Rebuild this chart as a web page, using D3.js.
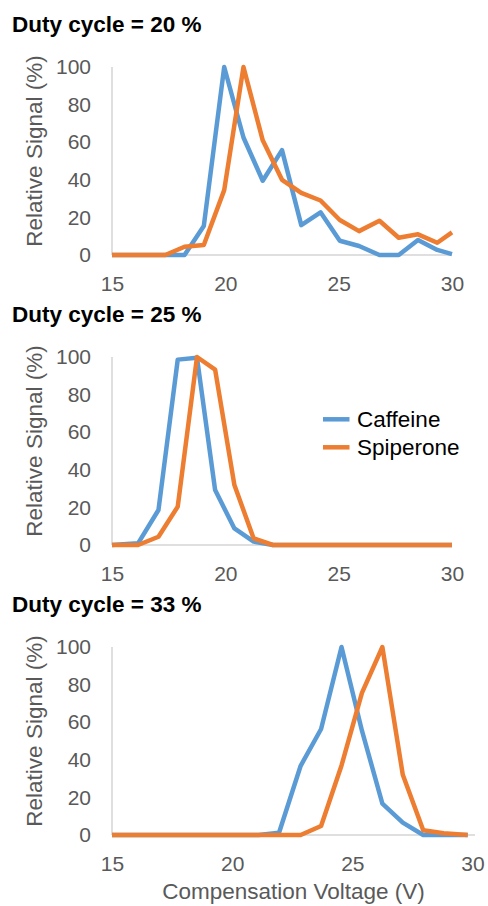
<!DOCTYPE html>
<html>
<head>
<meta charset="utf-8">
<script src="https://cdn.jsdelivr.net/npm/d3@7/dist/d3.min.js"></script>
<style>
  html, body { margin: 0; padding: 0; background: #fff; }
  svg { display: block; font-family: "Liberation Sans", Arial, sans-serif; }
</style>
</head>
<body>
<svg id="chart" width="488" height="906"></svg>
<script>
// ---- Data ----
const seriesNames = ["Caffeine", "Spiperone"];
const seriesColors = ["#5B9BD5", "#ED7D31"];
const xTicks = [15, 20, 25, 30];
const yTicks = [0, 20, 40, 60, 80, 100];
const panelTitles = ["Duty cycle = 20 %", "Duty cycle = 25 %", "Duty cycle = 33 %"];
const yAxisTitle = "Relative Signal (%)";
const xAxisTitle = "Compensation Voltage (V)";

// Duty cycle 20 %
const cv20 = [15, 16.55, 17.35, 18.2, 19.05, 19.95, 20.8, 21.65, 22.5, 23.35, 24.2, 25.05, 25.9, 26.8, 27.65, 28.5, 29.35, 30];
const caffeine20 = [0, 0, 0, 0, 15.4, 100, 62.5, 39.5, 55.8, 15.9, 22.7, 7.6, 4.8, 0, 0, 8, 2.7, 0.5];
const spiperone20 = [0, 0, 0, 4.4, 5.3, 34.5, 100, 61, 40, 33, 29, 18.6, 12.7, 18.2, 9.2, 11, 6.5, 12];

// Duty cycle 25 %
const cv25 = [15, 16.15, 17.05, 17.9, 18.75, 19.55, 20.4, 21.25, 22.1, 30];
const caffeine25 = [0, 0.9, 18.6, 98.6, 99.6, 29.2, 8.8, 1.8, 0, 0];
const spiperone25 = [0, 0, 4.4, 20.4, 100, 93.3, 31.9, 3.5, 0, 0];

// Duty cycle 33 %
const cv33 = [15, 21.1, 21.95, 22.85, 23.7, 24.55, 25.4, 26.25, 27.1, 27.95, 28.8, 29.8];
const caffeine33 = [0, 0, 1.2, 36.8, 56.4, 100, 55.5, 16.7, 6.6, 0, 0, 0];
const spiperone33 = [0, 0, 0, 0, 4.8, 37, 75.6, 100, 32, 2.5, 0.9, 0];

const panels = [
  { title: panelTitles[0], cv: cv20, series: [caffeine20, spiperone20], xRight: 452, axisRight: 452, legend: false, xTitle: false },
  { title: panelTitles[1], cv: cv25, series: [caffeine25, spiperone25], xRight: 452, axisRight: 452, legend: true, xTitle: false },
  { title: panelTitles[2], cv: cv33, series: [caffeine33, spiperone33], xRight: 472.5, axisRight: 475, legend: false, xTitle: true }
];

const svg = d3.select("#chart");
const plotLeft = 112;
const panelStep = 290;

panels.forEach((p, i) => {
  const off = i * panelStep;
  const top = 67 + off, bottom = 255 + off;
  const g = svg.append("g");

  const x = d3.scaleLinear().domain([15, 30]).range([plotLeft, p.xRight]);
  const y = d3.scaleLinear().domain([0, 100]).range([bottom, top]);

  // title
  g.append("text")
    .attr("x", 12).attr("y", 32 + off)
    .attr("font-size", 22.5).attr("font-weight", "bold").attr("fill", "#000")
    .text(p.title);

  // axis lines
  g.append("line").attr("x1", plotLeft).attr("x2", plotLeft)
    .attr("y1", top).attr("y2", bottom)
    .attr("stroke", "#d4d4d4").attr("stroke-width", 1.5);
  g.append("line").attr("x1", plotLeft).attr("x2", p.axisRight)
    .attr("y1", bottom).attr("y2", bottom)
    .attr("stroke", "#d4d4d4").attr("stroke-width", 1.5);

  // y axis
  const ya = g.append("g").attr("transform", `translate(${plotLeft},0)`)
    .call(d3.axisLeft(y).tickValues(yTicks).tickSize(0).tickPadding(21));
  ya.select(".domain").remove();
  ya.selectAll("text").attr("font-size", 21).attr("fill", "#595959")
    .attr("font-family", "Liberation Sans, Arial, sans-serif");

  // x axis
  const xa = g.append("g").attr("transform", `translate(0,${bottom})`)
    .call(d3.axisBottom(x).tickValues(xTicks).tickSize(0).tickPadding(21));
  xa.select(".domain").remove();
  xa.selectAll("text").attr("font-size", 21).attr("fill", "#595959")
    .attr("font-family", "Liberation Sans, Arial, sans-serif");

  // y axis title
  g.append("text")
    .attr("transform", `translate(34,${(top + bottom) / 2 - 10}) rotate(-90)`)
    .attr("text-anchor", "middle").attr("dominant-baseline", "central")
    .attr("font-size", 22.5).attr("fill", "#595959")
    .text(yAxisTitle);

  // lines
  const line = d3.line().x(d => x(d[0])).y(d => y(d[1]));
  p.series.forEach((vals, k) => {
    const pts = p.cv.map((c, j) => [c, vals[j]]);
    g.append("path").datum(pts)
      .attr("d", line)
      .attr("fill", "none")
      .attr("stroke", seriesColors[k])
      .attr("stroke-width", 4.5)
      .attr("stroke-linejoin", "round");
  });

  if (p.legend) {
    const lg = g.append("g");
    seriesNames.forEach((name, k) => {
      const ly = 419.3 + k * 28;
      lg.append("line").attr("x1", 323).attr("x2", 349.5)
        .attr("y1", ly).attr("y2", ly)
        .attr("stroke", seriesColors[k]).attr("stroke-width", 4.5);
      lg.append("text").attr("x", 357).attr("y", ly)
        .attr("dominant-baseline", "central")
        .attr("font-size", 22.5).attr("fill", "#000")
        .text(name);
    });
  }

  if (p.xTitle) {
    g.append("text")
      .attr("x", 293.5).attr("y", 899)
      .attr("text-anchor", "middle")
      .attr("font-size", 22.5).attr("fill", "#595959")
      .text(xAxisTitle);
  }
});
</script>
</body>
</html>
